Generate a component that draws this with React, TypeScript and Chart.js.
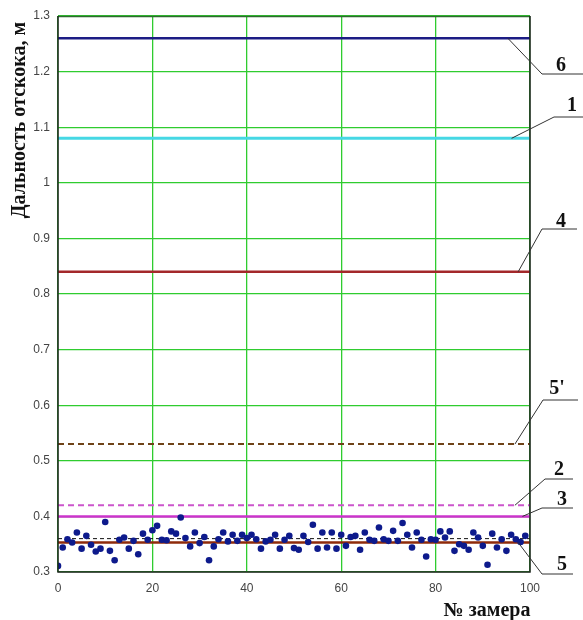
import { useEffect, useRef } from "react";
import { Chart, registerables } from "chart.js";

Chart.register(...registerables);

// Measurement numbers and measured bounce distances (m)
const measurementNo: number[] = Array.from({ length: 100 }, (_, i) => i);
const bounceDistance: number[] = [
  0.311, 0.344, 0.359, 0.353, 0.371, 0.342, 0.365, 0.349, 0.337, 0.342,
  0.390, 0.338, 0.321, 0.358, 0.362, 0.342, 0.356, 0.332, 0.369, 0.358,
  0.375, 0.383, 0.358, 0.357, 0.373, 0.369, 0.398, 0.361, 0.346, 0.371,
  0.352, 0.363, 0.321, 0.346, 0.359, 0.371, 0.355, 0.367, 0.356, 0.367,
  0.361, 0.367, 0.359, 0.342, 0.355, 0.358, 0.367, 0.342, 0.358, 0.365,
  0.343, 0.340, 0.365, 0.354, 0.385, 0.342, 0.371, 0.344, 0.371, 0.342,
  0.367, 0.347, 0.363, 0.365, 0.340, 0.371, 0.358, 0.356, 0.380, 0.359,
  0.356, 0.374, 0.356, 0.388, 0.367, 0.344, 0.371, 0.358, 0.328, 0.359,
  0.358, 0.373, 0.362, 0.373, 0.338, 0.350, 0.347, 0.340, 0.371, 0.362,
  0.347, 0.313, 0.369, 0.344, 0.359, 0.338, 0.367, 0.359, 0.354, 0.365,
];

// Reference levels (m), their curve numbers and styles
const levelNames: string[] = ["6", "1", "4", "5'", "2", "3", "5"];
const levelValues: number[] = [1.26, 1.08, 0.84, 0.53, 0.42, 0.4, 0.353];
const levelColors: string[] = ["#1c1c84", "#46d8e4", "#a3282a", "#6e4218", "#cc55cc", "#cc33cc", "#8e2a0a"];
const levelWidths: number[] = [2.5, 3, 2.5, 2, 2, 2.5, 2.5];
const levelDashed: boolean[] = [false, false, false, true, true, false, false];
// x position (measurement no.) where each callout leaves its line
const calloutFrom: number[] = [95.3, 96.1, 97.5, 96.8, 96.8, 98.4, 97.5];
const meanLevel = 0.36;

const xMin = 0;
const xMax = 100;
const xStep = 20;
const yMin = 0.3;
const yMax = 1.3;
const yStep = 0.1;

// Callout geometry: elbow point, end of underline, label centre (canvas px)
const calloutLayout = [
  { ex: 542, ey: 74, end: 583, tx: 561, ty: 66 },
  { ex: 554, ey: 117, end: 583, tx: 572, ty: 106 },
  { ex: 542, ey: 229, end: 577, tx: 561, ty: 222 },
  { ex: 543, ey: 400, end: 578, tx: 557, ty: 389 },
  { ex: 545, ey: 479, end: 573, tx: 559, ty: 470 },
  { ex: 542, ey: 508, end: 573, tx: 562, ty: 500 },
  { ex: 542, ey: 574, end: 573, tx: 562, ty: 565 },
];

const decorations = {
  id: "decorations",
  afterDatasetsDraw(chart: any) {
    const { ctx, chartArea, scales } = chart;
    const { left, right, top, bottom } = chartArea;
    ctx.save();
    // plot frame
    ctx.lineWidth = 1.5;
    ctx.strokeStyle = "#2e6a2e";
    ctx.beginPath();
    ctx.moveTo(left, top + 0.5);
    ctx.lineTo(right, top + 0.5);
    ctx.stroke();
    ctx.strokeStyle = "#222";
    ctx.beginPath();
    ctx.moveTo(left, top);
    ctx.lineTo(left, bottom);
    ctx.lineTo(right, bottom);
    ctx.lineTo(right, top);
    ctx.stroke();

    // callouts
    ctx.lineWidth = 1;
    ctx.strokeStyle = "#333";
    ctx.fillStyle = "#111";
    ctx.font = "bold 20px 'Liberation Serif', 'Times New Roman', serif";
    ctx.textAlign = "center";
    ctx.textBaseline = "middle";
    levelNames.forEach((name, i) => {
      const c = calloutLayout[i];
      const sx = scales.x.getPixelForValue(calloutFrom[i]);
      const sy = scales.y.getPixelForValue(levelValues[i]);
      ctx.beginPath();
      ctx.moveTo(sx, sy);
      ctx.lineTo(c.ex, c.ey);
      ctx.lineTo(c.end, c.ey);
      ctx.stroke();
      ctx.fillText(name, c.tx, c.ty);
    });

    // axis titles
    ctx.font = "bold 20px 'Liberation Serif', 'Times New Roman', serif";
    ctx.textBaseline = "alphabetic";
    ctx.textAlign = "center";
    ctx.fillText("№ замера", 487, 616);
    ctx.translate(25, 120);
    ctx.rotate(-Math.PI / 2);
    ctx.fillText("Дальность отскока, м", 0, 0);
    ctx.restore();
  },
};

export default function App() {
  const canvasRef = useRef<HTMLCanvasElement | null>(null);

  useEffect(() => {
    if (!canvasRef.current) return;
    const levelSets = levelValues.map((v, i) => ({
      label: "Кривая " + levelNames[i],
      data: [
        { x: xMin, y: v },
        { x: xMax, y: v },
      ],
      showLine: true,
      borderColor: levelColors[i],
      borderWidth: levelWidths[i],
      borderDash: levelDashed[i] ? [6, 4] : [],
      pointRadius: 0,
      order: 3,
    }));
    const tickFont = { family: "'Liberation Sans', Arial, sans-serif", size: 12 };
    const gridStyle = { color: "#2fcc2f", lineWidth: 1.3, drawTicks: false };
    const chart = new Chart(canvasRef.current, {
      type: "scatter",
      data: {
        datasets: [
          {
            label: "Замеры",
            data: measurementNo.map((n, i) => ({ x: n, y: bounceDistance[i] })),
            backgroundColor: "#0d1a8c",
            borderColor: "#0d1a8c",
            pointRadius: 3.3,
            borderWidth: 0,
            order: 1,
          },
          {
            label: "Среднее",
            data: [
              { x: xMin, y: meanLevel },
              { x: xMax, y: meanLevel },
            ],
            showLine: true,
            borderColor: "#111",
            borderWidth: 1,
            borderDash: [4, 3],
            pointRadius: 0,
            order: 2,
          },
          ...levelSets,
        ],
      },
      options: {
        animation: false,
        responsive: false,
        layout: { padding: { top: 16, right: 53, left: 0, bottom: 0 } },
        plugins: { legend: { display: false }, tooltip: { enabled: false } },
        scales: {
          x: {
            type: "linear",
            min: xMin,
            max: xMax,
            afterFit: (s: any) => {
              s.height = 48;
            },
            grid: gridStyle,
            border: { display: false },
            ticks: {
              stepSize: xStep,
              padding: 9,
              color: "#444",
              font: tickFont,
            },
          },
          y: {
            type: "linear",
            min: yMin,
            max: yMax,
            ticks: {
              stepSize: yStep,
              padding: 8,
              color: "#444",
              font: tickFont,
              callback: (v: any) => String(Number(Number(v).toFixed(1))),
            },
            afterFit: (s: any) => {
              s.width = 58;
            },
            grid: gridStyle,
            border: { display: false },
          },
        },
      },
      plugins: [decorations],
    } as any);
    return () => chart.destroy();
  }, []);

  return (
    <div style={{ position: "fixed", left: 0, top: 0, width: 583, height: 620, background: "#fff" }}>
      <canvas ref={canvasRef} width={583} height={620} />
    </div>
  );
}
